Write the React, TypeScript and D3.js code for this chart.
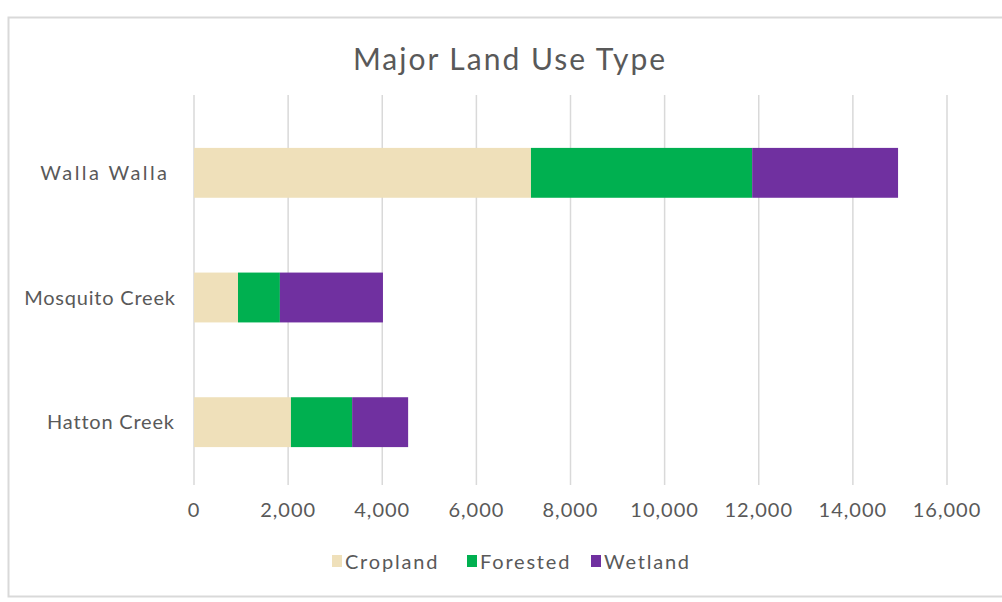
import React from "react";
import * as d3 from "d3";

const categories = ["Walla Walla", "Mosquito Creek", "Hatton Creek"];
const seriesNames = ["Cropland", "Forested", "Wetland"];
const cropland = [7160, 935, 2060];
const forested = [4700, 890, 1300];
const wetland = [3100, 2190, 1190];
const xTicks = [0, 2000, 4000, 6000, 8000, 10000, 12000, 14000, 16000];
const colors = ["#EFE0BA", "#00B050", "#7030A0"];

const W = 1002, H = 602;
const FONT = "Lato, 'Open Sans', sans-serif";

export default function App() {
  const rows = categories.map((c, i) => ({
    cat: c,
    Cropland: cropland[i],
    Forested: forested[i],
    Wetland: wetland[i],
  }));
  const stack = d3.stack<any>().keys(seriesNames)(rows);
  const x = d3.scaleLinear().domain([0, 16000]).range([194, 947]);
  const y = d3.scaleBand().domain(categories).range([110.5, 484.5]).paddingInner(0.6).paddingOuter(0.3);
  const fmt = d3.format(",");
  const legendX = [332, 467, 591];
  const labelRight = [167, 175, 174];
  const labelSpacing = [2.4, 0.8, 0.8];
  return (
    <svg width={W} height={H} style={{ position: "absolute", left: 0, top: 0 }} fontFamily={FONT}>
      <rect x={0} y={0} width={W} height={H} fill="#fff" />
      <rect x={8.5} y={17.5} width={1000} height={579} fill="#fff" stroke="#d9d9d9" strokeWidth={2} />
      <text x={510} y={70} textAnchor="middle" fontSize={30} letterSpacing={2} fill="#595959">Major Land Use Type</text>
      {xTicks.map((t) => (
        <line key={t} x1={x(t)} x2={x(t)} y1={95} y2={485} stroke="#d9d9d9" strokeWidth={1.5} />
      ))}
      {stack.map((s, si) => (
        <g key={s.key} fill={colors[si]}>
          {s.map((d: any, i: number) => (
            <rect key={i} x={x(d[0])} width={x(d[1]) - x(d[0])} y={y(categories[i])!} height={y.bandwidth()} />
          ))}
        </g>
      ))}
      {xTicks.map((t) => (
        <text key={t} x={x(t)} y={517} textAnchor="middle" fontSize={20} letterSpacing={1} fill="#595959">{fmt(t)}</text>
      ))}
      {categories.map((c, i) => (
        <text key={c} x={labelRight[i] + labelSpacing[i]} y={y(c)! + y.bandwidth() / 2 + 7} textAnchor="end" fontSize={20} letterSpacing={labelSpacing[i]} fill="#595959">{c}</text>
      ))}
      {seriesNames.map((n, i) => (
        <g key={n}>
          <rect x={legendX[i]} y={555} width={10} height={12} fill={colors[i]} />
          <text x={legendX[i] + 13} y={569} fontSize={20} letterSpacing={1.8} fill="#595959">{n}</text>
        </g>
      ))}
    </svg>
  );
}
